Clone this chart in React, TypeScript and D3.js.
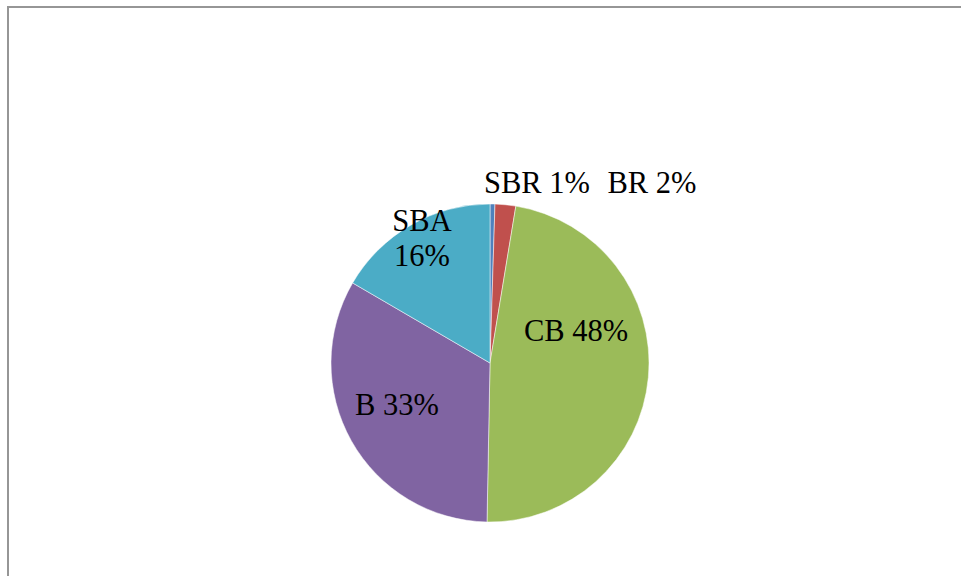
import React from 'react';
import * as d3 from 'd3';

// slice data, clockwise from 12 o'clock
const categories = ['SBR', 'BR', 'CB', 'B', 'SBA'];
const shares = [0.5, 2.1, 47.7, 33.1, 16.6];
const labels = ['SBR 1%', 'BR 2%', 'CB 48%', 'B 33%', 'SBA\n16%'];
const colors = ['#4F81BD', '#C0504D', '#9BBB59', '#8064A2', '#4BACC6'];

const W = 961;
const H = 576;
const cx = 490;
const cy = 363;
const radius = 159;

// where Excel put each label, relative to the pie centre
const labelOffset: Record<string, [number, number]> = {
  SBR: [47, -170],
  BR: [162, -170],
  CB: [86, -22],
  B: [-93, 52],
  SBA: [-68, -132],
};

const serif = 'Liberation Serif, Times New Roman, serif';

export default function App() {
  const slices = categories.map((c, i) => ({ cat: c, value: shares[i], label: labels[i], color: colors[i] }));

  const pie = d3.pie<any>().sort(null).value((d) => d.value);
  const arc = d3.arc<any>().innerRadius(0).outerRadius(radius);
  const arcs = pie(slices);

  return (
    <svg width={W} height={H} style={{ position: 'fixed', left: 0, top: 0, background: '#fff' }}>
      <rect x={8} y={7} width={W + 20} height={H + 20} fill="#fff" stroke="#969696" strokeWidth={2} />
      <g transform={`translate(${cx},${cy})`}>
        {arcs.map((a) => (
          <path key={a.data.cat} d={arc(a) || ''} fill={a.data.color} stroke="#fff" strokeWidth={0.5} />
        ))}
        {arcs.map((a) => {
          const [dx, dy] = labelOffset[a.data.cat];
          const lines = a.data.label.split('\n');
          return (
            <text
              key={a.data.cat}
              x={dx}
              y={dy}
              textAnchor="middle"
              fill="#000"
              style={{ fontFamily: serif, fontSize: '30.5px' }}
            >
              {lines.map((l: string, j: number) => (
                <tspan key={j} x={dx} dy={j === 0 ? 0 : 35}>
                  {l}
                </tspan>
              ))}
            </text>
          );
        })}
      </g>
    </svg>
  );
}
